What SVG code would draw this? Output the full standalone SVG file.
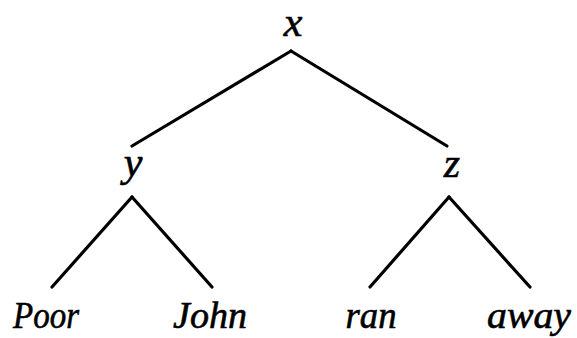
<svg xmlns="http://www.w3.org/2000/svg" width="577" height="338" viewBox="0 0 577 338">
<style>
.edge{stroke:#000;stroke-width:3.2;stroke-linecap:round;fill:none}
.lbl{font-family:'Liberation Serif','Times New Roman',Times,serif;font-style:italic;fill:#000;stroke:#000;stroke-width:0.6;text-anchor:middle}
.var{font-size:42px}
.word{font-size:37px}
</style>
<rect width="577" height="338" fill="#fff"/>
<g id="connectors">
<line class="edge" x1="291" y1="51" x2="132" y2="146"/>
<line class="edge" x1="291" y1="51" x2="447" y2="146"/>
<line class="edge" x1="132" y1="197" x2="52" y2="287"/>
<line class="edge" x1="132" y1="197" x2="212" y2="287"/>
<line class="edge" x1="449" y1="197" x2="370" y2="287"/>
<line class="edge" x1="449" y1="197" x2="530" y2="287"/>
</g>
<g id="node-x"><text class="lbl var" x="293" y="36">x</text></g>
<g id="node-y"><text class="lbl var" x="133" y="176">y</text></g>
<g id="node-z"><text class="lbl var" x="452" y="177">z</text></g>
<g id="node-poor"><text class="lbl word" x="46" y="328" textLength="66" lengthAdjust="spacingAndGlyphs">Poor</text></g>
<g id="node-john"><text class="lbl word" x="210" y="328" textLength="74" lengthAdjust="spacingAndGlyphs">John</text></g>
<g id="node-ran"><text class="lbl word" x="371" y="328" textLength="51" lengthAdjust="spacingAndGlyphs">ran</text></g>
<g id="node-away"><text class="lbl word" x="529" y="328" textLength="84" lengthAdjust="spacingAndGlyphs">away</text></g>
</svg>
